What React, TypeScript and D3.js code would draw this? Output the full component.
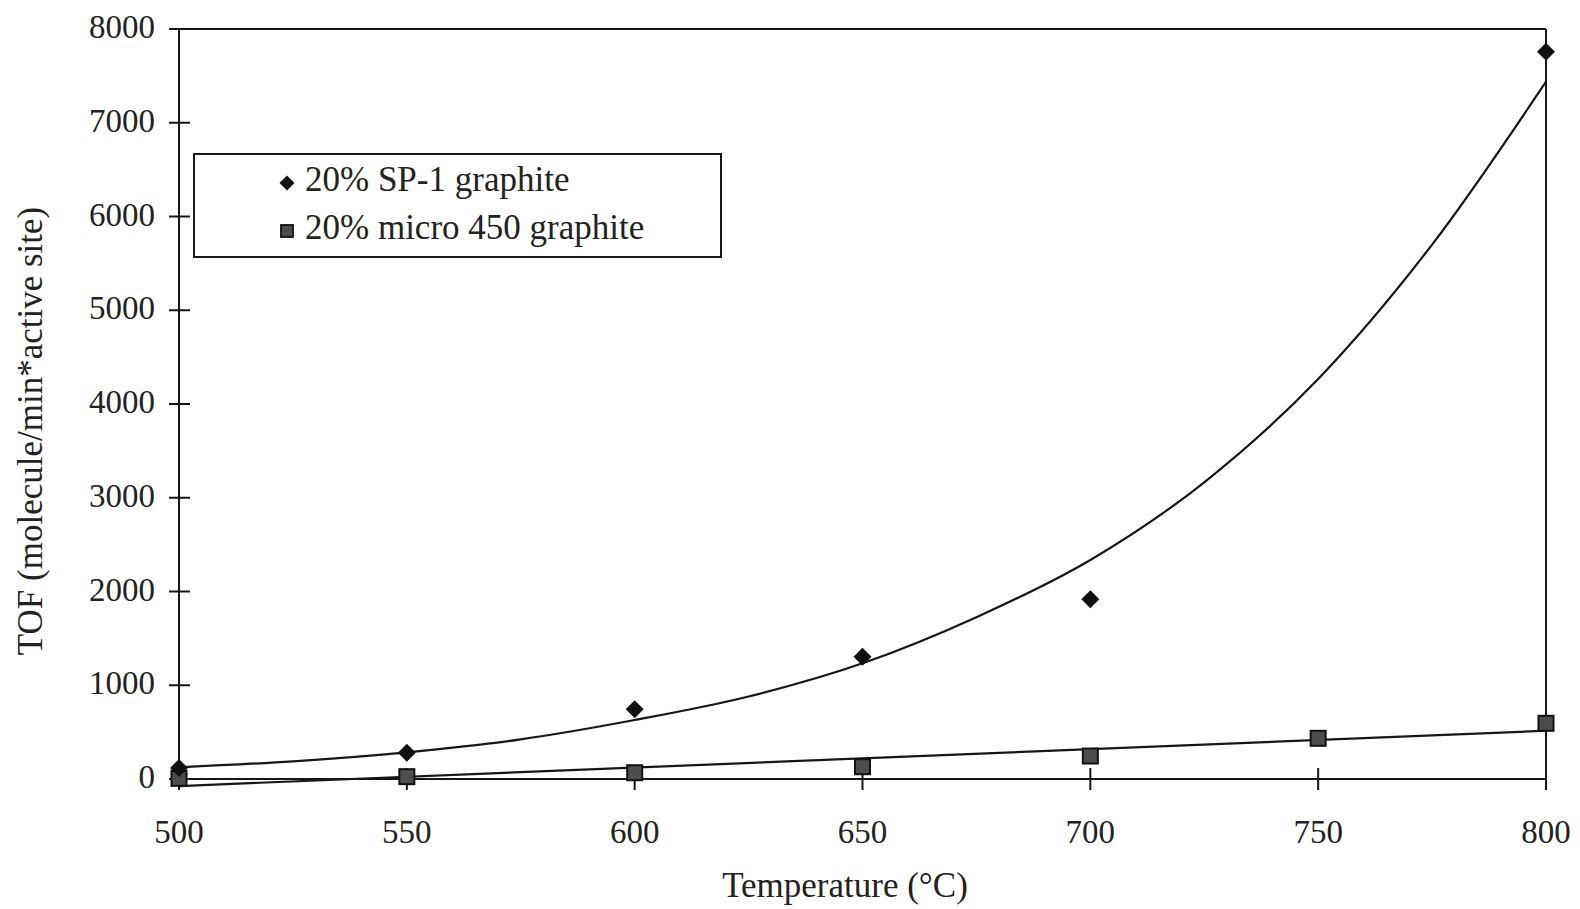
import React from "react";
import * as d3 from "d3";

const TEMPS_SP1 = [500, 550, 600, 650, 700, 800];
const TOF_SP1 = [117, 281, 743, 1305, 1917, 7758];

const TEMPS_MICRO = [500, 550, 600, 650, 700, 750, 800];
const TOF_MICRO = [7, 25, 67, 131, 245, 434, 594];

// trendlines
const TREND_SP1_T = [500, 525, 550, 575, 600, 625, 650, 675, 700, 725, 750, 775, 800];
const TREND_SP1_V = [125, 189, 285, 423, 629, 880, 1234, 1726, 2336, 3165, 4267, 5700, 7438];
const TREND_MICRO_T = [500, 800];
const TREND_MICRO_V = [-75, 515];

const X_TICKS = [500, 550, 600, 650, 700, 750, 800];
const Y_TICKS = [0, 1000, 2000, 3000, 4000, 5000, 6000, 7000, 8000];

const LEGEND = ["20% SP-1 graphite", "20% micro 450 graphite"];
const X_TITLE = "Temperature (°C)";
const Y_TITLE = "TOF (molecule/min*active site)";

const FONT = "'Liberation Serif', 'Times New Roman', serif";
const INK = "#161616";

export default function App() {
  const W = 1580;
  const H = 909;
  const L = 179, R = 1546, T = 29, B = 779;
  const x = d3.scaleLinear().domain([500, 800]).range([L, R]);
  const y = d3.scaleLinear().domain([0, 8000]).range([B, T]);

  const spTrend = d3
    .line<number>()
    .x((_, i) => x(TREND_SP1_T[i]))
    .y((v) => y(v))
    .curve(d3.curveMonotoneX)(TREND_SP1_V) as string;
  const microTrend = d3
    .line<number>()
    .x((_, i) => x(TREND_MICRO_T[i]))
    .y((v) => y(v))(TREND_MICRO_V) as string;

  const diamond = (cx: number, cy: number, r: number) =>
    `M${cx},${cy - r}L${cx + r},${cy}L${cx},${cy + r}L${cx - r},${cy}Z`;

  return (
    <svg
      width={W}
      height={H}
      style={{ position: "absolute", left: 0, top: 0, background: "#fff" }}
      fontFamily={FONT}
    >
      <rect x={0} y={0} width={W} height={H} fill="#fff" />
      {/* frame */}
      <line x1={L} y1={T} x2={R} y2={T} stroke={INK} strokeWidth={2} />
      <line x1={R} y1={T} x2={R} y2={B} stroke={INK} strokeWidth={2} />
      <line x1={L} y1={T} x2={L} y2={B} stroke={INK} strokeWidth={2} />
      <line x1={L} y1={B} x2={R} y2={B} stroke={INK} strokeWidth={2} />

      {/* y ticks */}
      {Y_TICKS.map((t) => (
        <g key={"y" + t}>
          <line x1={L - 10} x2={t === 8000 ? L : L + 11} y1={y(t)} y2={y(t)} stroke={INK} strokeWidth={2} />
          <text x={L - 24} y={y(t) + 9} textAnchor="end" fontSize={33} fill="#222">
            {t}
          </text>
        </g>
      ))}

      {/* x ticks */}
      {X_TICKS.map((t) => (
        <g key={"x" + t}>
          <line x1={x(t)} x2={x(t)} y1={t === 500 || t === 800 ? B : B - 11} y2={B + 11} stroke={INK} strokeWidth={2} />
          <text x={x(t)} y={843} textAnchor="middle" fontSize={33} fill="#222">
            {t}
          </text>
        </g>
      ))}

      {/* titles */}
      <text x={845} y={897} textAnchor="middle" fontSize={35} fill="#222">
        {X_TITLE}
      </text>
      <text
        transform={`translate(42,431) rotate(-90)`}
        textAnchor="middle"
        fontSize={35}
        fill="#222"
      >
        {Y_TITLE}
      </text>

      {/* trendlines */}
      <path d={microTrend} fill="none" stroke={INK} strokeWidth={2.2} />
      <path d={spTrend} fill="none" stroke={INK} strokeWidth={2.2} />

      {/* micro squares */}
      {TEMPS_MICRO.map((t, i) => (
        <rect
          key={"m" + t}
          x={x(t) - 7.5}
          y={y(TOF_MICRO[i]) - 7.5}
          width={15}
          height={15}
          fill="#4d4d4d"
          stroke="#111"
          strokeWidth={2}
        />
      ))}

      {/* SP-1 diamonds */}
      {TEMPS_SP1.map((t, i) => (
        <path key={"s" + t} d={diamond(x(t), y(TOF_SP1[i]), 9)} fill="#111" />
      ))}

      {/* legend */}
      <rect x={194} y={154} width={527} height={103} fill="#fff" stroke={INK} strokeWidth={2} />
      <path d={diamond(287, 183, 7.5)} fill="#111" />
      <rect x={281} y={225} width={12} height={12} fill="#4d4d4d" stroke="#111" strokeWidth={1.8} />
      <text x={305} y={191} fontSize={35} fill="#222">
        {LEGEND[0]}
      </text>
      <text x={305} y={239} fontSize={35} fill="#222">
        {LEGEND[1]}
      </text>
    </svg>
  );
}
